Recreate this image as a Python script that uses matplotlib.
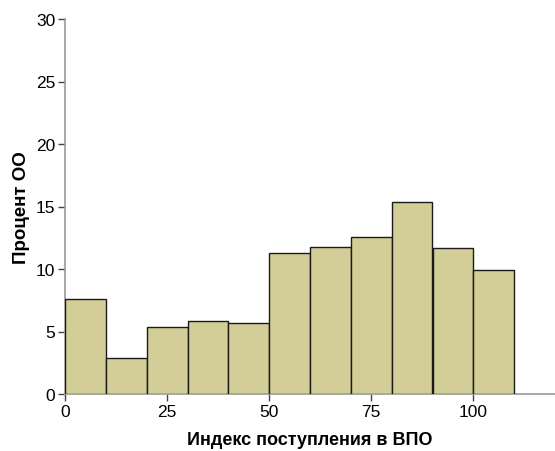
import matplotlib
matplotlib.use("Agg")
import matplotlib.pyplot as plt

plt.rcParams['font.family'] = ['Liberation Sans', 'DejaVu Sans']

bin_edges = [0, 10, 20, 30, 40, 50, 60, 70, 80, 90, 100, 110]
percents = [7.6, 2.86, 5.34, 5.85, 5.71, 11.32, 11.75, 12.6, 15.4, 11.67, 9.9]
x_ticks = [0, 25, 50, 75, 100]
y_ticks = [0, 5, 10, 15, 20, 25, 30]
x_label = "Индекс поступления в ВПО"
y_label = "Процент ОО"

fig = plt.figure(figsize=(5.55, 4.52), dpi=100)
ax = fig.add_axes([65/555, 1 - 395/452, 1 - 65/555, (395 - 20)/452])

lefts = bin_edges[:-1]
widths = [b - a for a, b in zip(bin_edges[:-1], bin_edges[1:])]
ax.bar(lefts, percents, width=widths, align='edge', color='#D3CE97',
       edgecolor='#1a1a1a', linewidth=1.0, zorder=3)

ax.set_xlim(0, 120)
ax.set_ylim(0, 30)
ax.set_xticks(x_ticks)
ax.set_yticks(y_ticks)
for s in ['top', 'right']:
    ax.spines[s].set_visible(False)
for s in ['left', 'bottom']:
    ax.spines[s].set_color('#9a9a9a')
    ax.spines[s].set_linewidth(1.2)
ax.tick_params(axis='both', colors='#444444', labelcolor='black', length=5,
               width=1, labelsize=12.5, pad=2)
ax.set_xlabel(x_label, fontsize=13, fontweight='bold', labelpad=9)
ax.set_ylabel(y_label, fontsize=13.5, fontweight='bold', labelpad=4)

fig.savefig("out.png", dpi=100)
